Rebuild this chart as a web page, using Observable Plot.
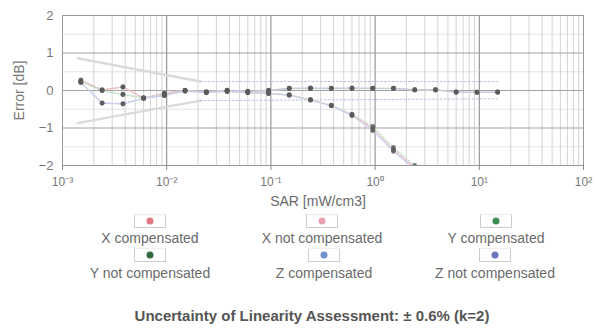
<!DOCTYPE html>
<html><head><meta charset="utf-8">
<script src="https://cdn.jsdelivr.net/npm/d3@7"></script>
<script src="https://cdn.jsdelivr.net/npm/@observablehq/plot@0.6"></script>
<style>
body{margin:0;background:#fff;font-family:"Liberation Sans",Arial,sans-serif;color:#666;}
#wrap{position:relative;width:597px;height:329px;overflow:hidden;}
#chart{position:absolute;left:0;top:0;}
.lbl{position:absolute;transform:translate(-50%,-50%);white-space:nowrap;font-size:14px;color:#6a6a6a;}
.box{position:absolute;width:30px;height:12px;transform:translate(-50%,-50%);border:1px solid #ccc;border-top-color:#eee;background:#fff;}
.box span{position:absolute;left:50%;top:50%;width:7px;height:7px;border-radius:50%;transform:translate(-50%,-50%);}
.foot{position:absolute;transform:translate(-50%,-50%);white-space:nowrap;font-size:15px;font-weight:bold;color:#555;}
</style></head><body><div id="wrap"><div id="chart"></div></div>
<script>
// SAR values [mW/cm3]
const sar = [0.0015,0.0024,0.0038,0.006,0.0095,0.015,0.024,0.038,0.06,0.095,0.15,0.24,0.38,0.6,0.95,1.5,2.4,3.8,6.0,9.5,15];
// Error [dB]
const xComp    = [0.28,0.02,0.10,-0.20,-0.07,0.01,-0.03,0.01,-0.02,0.01,0.06,0.06,0.06,0.06,0.06,0.06,0.02,0.02,-0.04,-0.04,-0.04];
const yComp    = [0.24,0.00,-0.11,-0.20,-0.10,-0.01,-0.05,0.00,-0.04,-0.02,0.05,0.05,0.05,0.05,0.05,0.05,0.01,0.01,-0.05,-0.05,-0.05];
const zComp    = [0.22,-0.34,-0.36,-0.21,-0.13,0.00,-0.04,0.01,-0.03,0.00,0.06,0.07,0.06,0.07,0.06,0.06,0.02,0.02,-0.04,-0.05,-0.04];
const xNotComp = [0.26,0.01,0.09,-0.20,-0.08,0.00,-0.05,-0.02,-0.05,-0.07,-0.12,-0.25,-0.40,-0.65,-1.02,-1.58,-2.05];
const yNotComp = [0.23,0.00,-0.10,-0.20,-0.11,-0.02,-0.06,-0.03,-0.06,-0.08,-0.11,-0.24,-0.39,-0.63,-0.96,-1.52,-2.00];
const zNotComp = [0.21,-0.33,-0.35,-0.21,-0.14,-0.01,-0.05,-0.02,-0.05,-0.08,-0.13,-0.26,-0.41,-0.67,-1.07,-1.62,-2.10];
// uncertainty envelope
const envX   = [0.0014, 0.021, 15];
const envUp  = [0.86, 0.24, 0.24];
const envLow = [-0.87, -0.27, -0.22];
// axes
const xTicks = [1e-3,1e-2,1e-1,1e0,1e1,1e2];
const xTickLabels = ["10⁻³","10⁻²","10⁻¹","10⁰","10¹","10²"];
const yTicks = [-2,-1,0,1,2];
const yMinor = [-1.5,-0.5,0.5,1.5];

const seriesNames = ["X compensated","X not compensated","Y compensated","Y not compensated","Z compensated","Z not compensated"];
const seriesVals = [xComp,xNotComp,yComp,yNotComp,zComp,zNotComp];
const lineColors = ["#ecc0c0","#f0b8c4","#c0dcc0","#c8e0c8","#c4c8ea","#c8ccee"];
const legendColors = ["#e07a86","#e8a0ac","#3f8f55","#2f6a40","#6f8fd0","#6d74c4"];

const rows = [];
seriesVals.forEach((vals,i)=>vals.forEach((v,j)=>rows.push({series:seriesNames[i], sar:sar[j], err:v})));
const env = [];
envX.forEach((x,j)=>{env.push({k:"up",sar:x,err:envUp[j]}); env.push({k:"low",sar:x,err:envLow[j]});});
const envSeg0 = env.filter(d=>d.sar<=envX[1]);
const envSeg1 = env.filter(d=>d.sar>=envX[1]);

const minorX = [];
for (let e=-3;e<2;e++) for (let m=2;m<10;m++) minorX.push(m*Math.pow(10,e));

const chart = Plot.plot({
  width:597, height:192,
  marginTop:15, marginBottom:27, marginLeft:62, marginRight:14,
  style:{fontFamily:"'Liberation Sans', Arial, sans-serif", fontSize:"12px", color:"#777", background:"transparent"},
  x:{type:"log", domain:[1e-3,1e2]},
  y:{domain:[-2,2]},
  marks:[
    Plot.gridX(minorX,{stroke:"#aaa", strokeOpacity:0.5}),
    Plot.gridX(xTicks,{stroke:"#777", strokeOpacity:0.9}),
    Plot.gridY(yMinor,{stroke:"#ccc", strokeOpacity:0.5}),
    Plot.gridY(yTicks,{stroke:"#999", strokeOpacity:0.9}),
    Plot.frame({stroke:"#999"}),
    Plot.axisX(xTicks,{tickFormat:d=>xTickLabels[xTicks.indexOf(d)], tickSize:5, tickPadding:7, label:null, stroke:"#888", fontSize:12}),
    Plot.axisY(yTicks,{tickSize:0, tickPadding:9, label:"Error [dB]", labelAnchor:"center", labelOffset:48, labelArrow:"none", fontSize:13}),
    Plot.line(envSeg0,{x:"sar",y:"err",z:"k",stroke:"#dadada",strokeWidth:2.5}),
    Plot.line(envSeg1,{x:"sar",y:"err",z:"k",stroke:"#c0c4e4",strokeWidth:1,strokeDasharray:"2,2"}),
    Plot.line(rows,{x:"sar",y:"err",z:"series",stroke:d=>lineColors[seriesNames.indexOf(d.series)],strokeWidth:1.2,strokeDasharray:"2,1.5",clip:true}),
    Plot.dot(rows,{x:"sar",y:"err",r:2.4,fill:"#5a5a5a",fillOpacity:0.85,stroke:"none",clip:true})
  ]
});
document.getElementById("chart").appendChild(chart);
d3.select(chart).selectAll("[aria-label='y-axis label'] text").attr("font-size","14px");

const wrap = document.getElementById("wrap");
function add(cls, txt, x, y){const d=document.createElement("div");d.className=cls;d.textContent=txt;d.style.left=x+"px";d.style.top=y+"px";wrap.appendChild(d);return d;}
add("lbl","SAR [mW/cm3]",318,201);
const legendPos = [[150,221,238],[322,221,238],[496,221,238],[150,255,273],[324,255,273],[495,255,273]];
seriesNames.forEach((n,i)=>{
  const [cx,by,ly] = legendPos[i];
  const b = add("box","",cx,by);
  const s = document.createElement("span"); s.style.background = legendColors[i]; b.appendChild(s);
  add("lbl",n,cx,ly);
});
add("foot","Uncertainty of Linearity Assessment: ± 0.6% (k=2)",312,315);
</script></body></html>
